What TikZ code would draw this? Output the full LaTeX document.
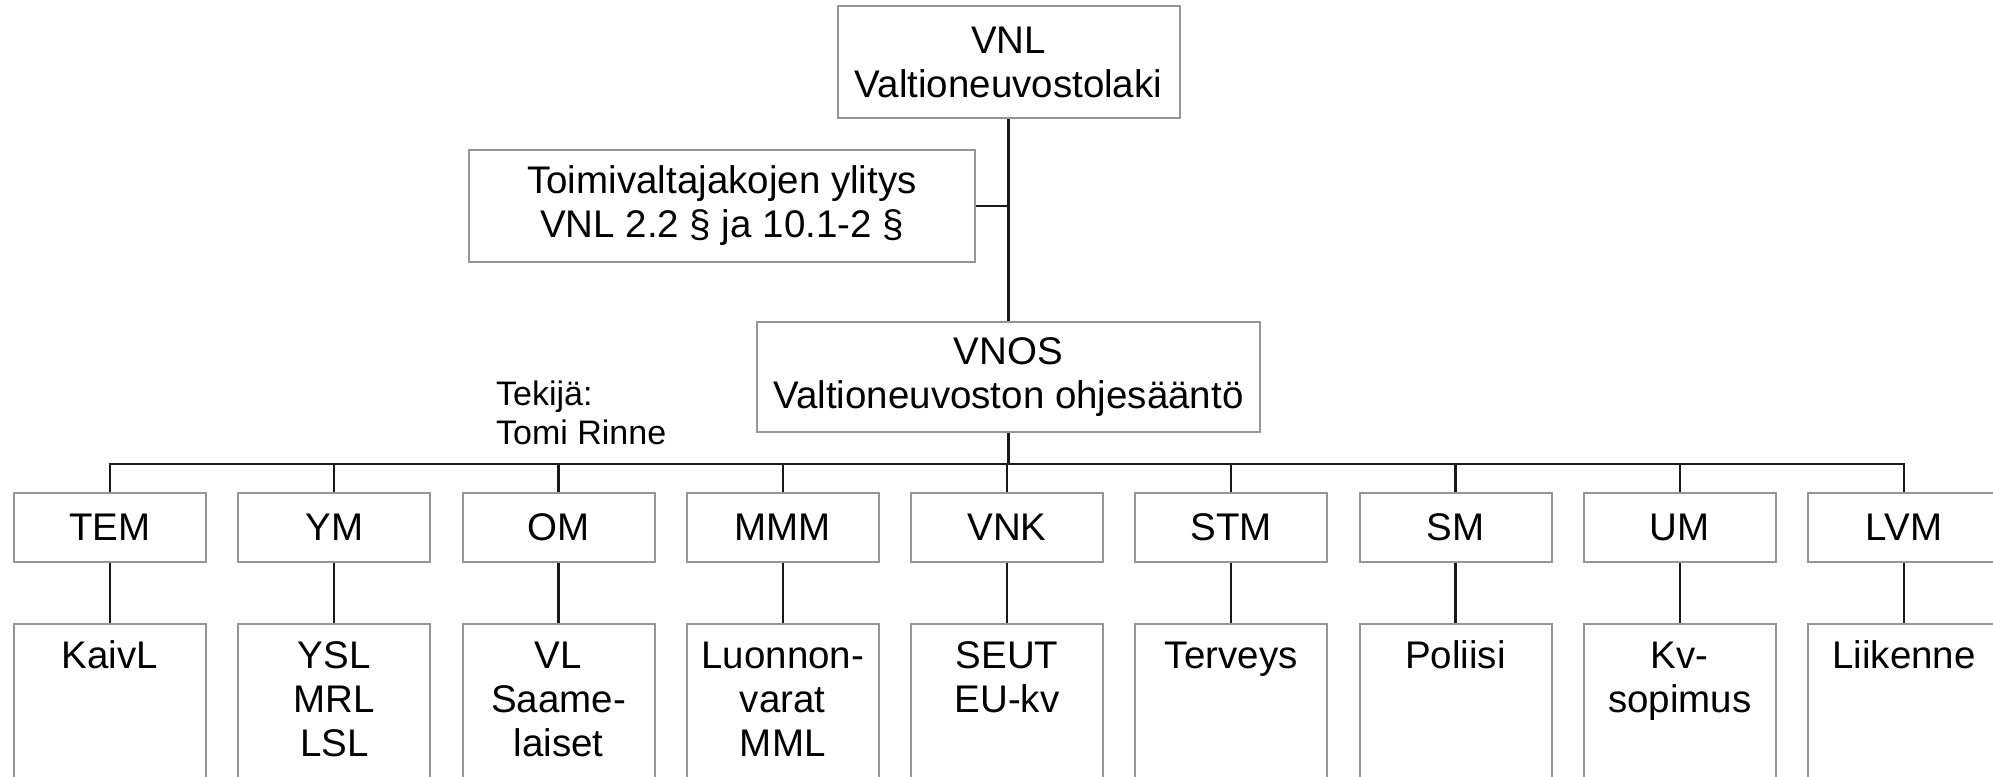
\documentclass[tikz,border=0pt]{standalone}
\usepackage{fontspec}
\setmainfont{Liberation Sans}
\definecolor{boxgray}{RGB}{150,150,150}
\definecolor{linek}{RGB}{25,25,25}
\begin{document}
\begin{tikzpicture}[x=1pt,y=-1pt,
  box/.style={draw=boxgray,line width=2pt,fill=white,inner sep=0pt,align=center,
    font=\fontsize{38.5}{44}\selectfont},
  topbox/.style={box,minimum width=342pt,minimum height=112pt},
  minbox/.style={box,minimum width=192pt,minimum height=69pt},
  lawbox/.style={draw=boxgray,line width=2pt,fill=white,minimum width=192pt,minimum height=260pt,anchor=north},
  lawtext/.style={inner sep=0pt,align=center,anchor=north,font=\fontsize{38.5}{44}\selectfont},
  conn/.style={draw=linek,line width=2.2pt},
  note/.style={inner sep=0pt,align=left,anchor=north west,font=\fontsize{34}{39}\selectfont}
]
\path[use as bounding box,fill=white] (0,0) rectangle (1993,776);

\node[topbox] (vnl) at (1008.5,62) {VNL\\Valtioneuvostolaki};
\node[box,minimum width=506pt,minimum height=112pt] (toim) at (722,206) {Toimivaltajakojen ylitys\\VNL 2.2 § ja 10.1-2 §};
\node[box,minimum width=503pt,minimum height=110pt] (vnos) at (1008.5,377) {VNOS\\Valtioneuvoston ohjesääntö};
\node[note] (tekija) at (496,405-27.3) {\strut Tekijä:\\Tomi Rinne};

\coordinate (bus) at (1008.5,464);

\draw[conn] (vnl.south) -- (vnos.north);
\draw[conn] (toim.east) -- (toim.east -| vnl.south);
\draw[conn] (vnos.south) -- (bus);

\foreach \nm/\law [count=\i from 0] in {TEM/{KaivL},YM/{YSL\\MRL\\LSL},OM/{VL\\Saame-\\laiset},MMM/{Luonnon-\\varat\\MML},VNK/{SEUT\\EU-kv},STM/{Terveys},SM/{Poliisi},UM/{Kv-\\sopimus},LVM/{Liikenne}}{
  \pgfmathsetmacro{\cx}{110+224.25*\i}
  \node[minbox] (\nm) at (\cx,527.5) {\nm};
  \node[lawbox] (\nm-law) at (\cx,623) {};
  \node[lawtext] (\nm-txt) at (\cx,637.2) {\strut\law};
  \draw[conn] (\nm.south) -- (\nm-law.north);
}

\draw[conn,line join=miter] (TEM.north) |- (bus) -| (LVM.north);
\foreach \nm in {YM,OM,MMM,VNK,STM,SM,UM}{
  \draw[conn] (\nm.north) -- (\nm.north |- bus);
}
\end{tikzpicture}
\end{document}
